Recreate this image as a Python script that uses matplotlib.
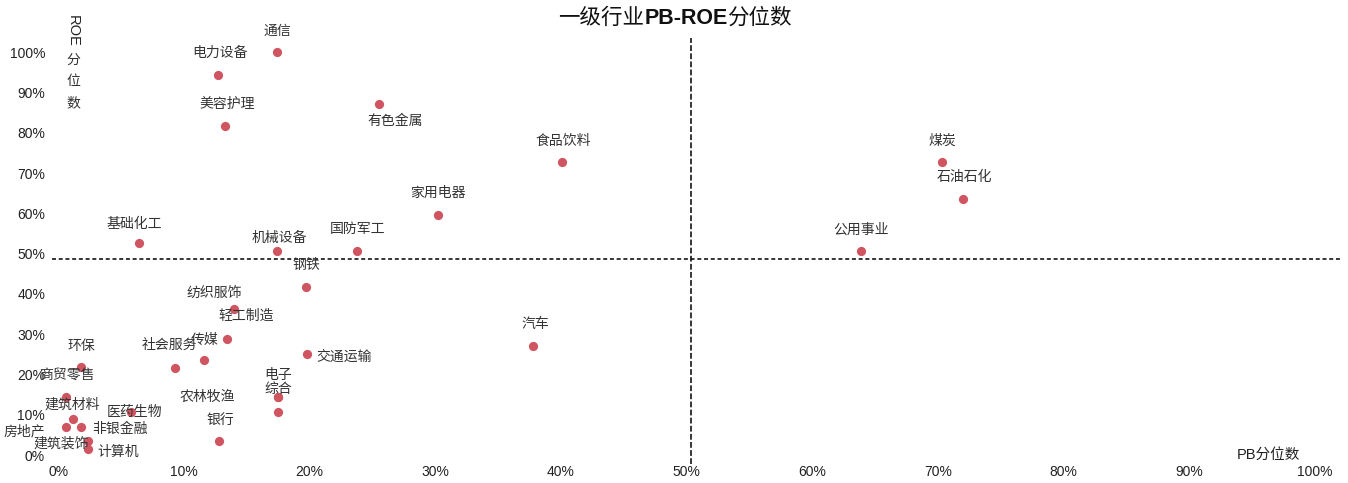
import matplotlib
matplotlib.use("Agg")
import matplotlib.pyplot as plt
from matplotlib.ticker import PercentFormatter

plt.rcParams['font.family'] = ['Liberation Sans', 'Noto Sans CJK SC']

# 一级行业 PB / ROE 分位数 (%)
industries = ['通信', '电力设备', '美容护理', '有色金属', '食品饮料', '家用电器',
              '煤炭', '石油石化', '公用事业', '基础化工', '机械设备', '国防军工',
              '钢铁', '纺织服饰', '轻工制造', '传媒', '社会服务', '交通运输',
              '汽车', '环保', '商贸零售', '建筑材料', '医药生物', '房地产',
              '非银金融', '建筑装饰', '计算机', '银行', '电子', '综合', '农林牧渔']
pb_pct = [17.4, 12.7, 13.3, 25.5, 40.1, 30.2,
          70.3, 72.0, 63.9, 6.4, 17.4, 23.8,
          19.7, 14.0, 13.4, 11.6, 9.3, 19.8,
          37.8, 1.8, 0.6, 1.2, 5.8, 0.6,
          1.8, 2.4, 2.4, 12.8, 17.5, 17.5, 17.5]
roe_pct = [100.0, 94.3, 81.6, 87.1, 72.7, 59.7,
           72.7, 63.5, 50.6, 52.6, 50.6, 50.6,
           41.7, 36.2, 28.8, 23.6, 21.6, 25.1,
           27.0, 21.8, 14.4, 8.9, 10.7, 6.9,
           6.9, 3.5, 1.5, 3.5, 14.4, 10.7, 14.4]
pb_mid = 50.35
roe_mid = 48.6

# label offsets from the point, in pixels (x right, y down)
label_off = {
    '通信': (0, -21), '电力设备': (2, -22), '美容护理': (2, -22), '有色金属': (16, 17),
    '食品饮料': (1, -21), '家用电器': (0, -22), '煤炭': (1, -21), '石油石化': (1, -22),
    '公用事业': (0, -22), '基础化工': (-4, -19), '机械设备': (2, -13), '国防军工': (0, -22),
    '钢铁': (1, -22), '纺织服饰': (-20, -16), '轻工制造': (20, -23), '传媒': (1, -20),
    '社会服务': (-6, -23), '交通运输': (37, 3), '汽车': (2, -22), '环保': (0, -21),
    '商贸零售': (1, -22), '建筑材料': (-1, -15), '医药生物': (3, 0), '房地产': (-41, 4),
    '非银金融': (39, 2), '建筑装饰': (-27, 2), '计算机': (30, 3), '银行': (1, -21),
    '电子': (0, -22), '综合': (0, -23), '农林牧渔': (-71, 0),
}

W, H = 1348, 483
fig = plt.figure(figsize=(W / 100, H / 100), dpi=100)
ax = fig.add_axes([52 / W, 1 - 464 / H, (1340 - 52) / W, (464 - 38) / H])

ax.scatter(pb_pct, roe_pct, s=44, color='#CF5560', zorder=3, linewidths=0)
for name, x, y in zip(industries, pb_pct, roe_pct):
    dx, dy = label_off[name]
    ax.annotate(name, (x, y), xytext=(dx, -dy), textcoords='offset pixels',
                ha='center', va='center', fontsize=10, color='#333333',
                family='Noto Sans CJK SC', zorder=4)

ax.axvline(pb_mid, color='black', lw=1.1, ls=(0, (3.8, 1.5)), zorder=1)
ax.axhline(roe_mid, color='black', lw=1.1, ls=(0, (2.6, 1.8)), zorder=1)

ax.set_xlim(-0.5, 102)
ax.set_ylim(-2.2, 103.5)
ax.set_xticks(range(0, 101, 10))
ax.set_yticks(range(0, 101, 10))
ax.xaxis.set_major_formatter(PercentFormatter(decimals=0))
ax.yaxis.set_major_formatter(PercentFormatter(decimals=0))
ax.tick_params(length=0, labelsize=10, colors='#222222')
ax.tick_params(axis='x', pad=1)
ax.tick_params(axis='y', pad=5)
for s in ax.spines.values():
    s.set_visible(False)

def px(x, y):
    return x / W, 1 - y / H

# title: Chinese parts regular, PB-ROE bold
renderer = fig.canvas.get_renderer()
parts = [('一级行业', 'normal'), ('PB-ROE', 'bold'), ('分位数', 'normal')]
texts = []
for s, wt in parts:
    t = fig.text(0, 0, s, fontsize=15.5, fontweight=wt, color='#111111',
                 va='center', ha='left')
    texts.append(t)
widths = [t.get_window_extent(renderer).width for t in texts]
x0 = 675 - sum(widths) / 2
for t, w in zip(texts, widths):
    t.set_position(px(x0, 18))
    x0 += w

# vertical y-axis title: ROE rotated, Chinese stacked
fig.text(*px(73, 31), 'ROE', rotation=-90, ha='center', va='center',
         fontsize=10.5, color='#222222')
for ch, yy in zip('分位数', [60, 81, 103]):
    fig.text(*px(73, yy), ch, ha='center', va='center', fontsize=10,
             color='#333333', family='Noto Sans CJK SC')

fig.text(*px(1268, 455), 'PB分位数', ha='center', va='center', fontsize=10.5,
         color='#222222')

fig.savefig('out.png', dpi=100)
